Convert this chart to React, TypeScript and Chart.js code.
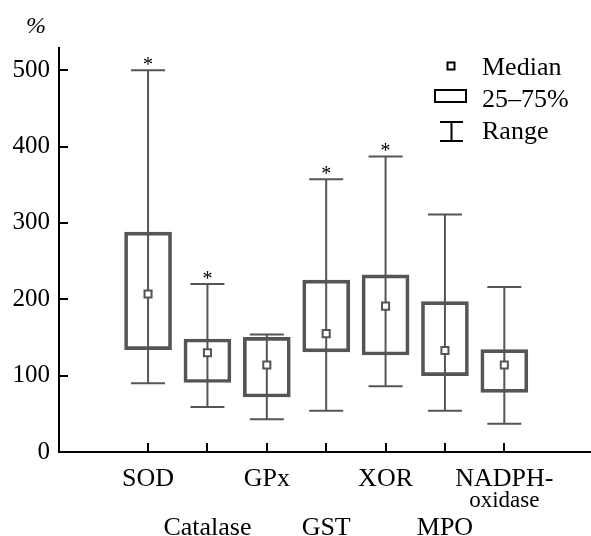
import { useEffect, useRef } from "react";
import { Chart, registerables } from "chart.js";

Chart.register(...registerables);

// ---- data ----
const categories = ["SOD", "Catalase", "GPx", "GST", "XOR", "MPO", "NADPH-"];
const categorySub = ["", "", "", "", "", "", "oxidase"];
const labelRow = [0, 1, 0, 1, 0, 1, 0];
const minValues = [90, 59, 43, 54, 86, 54, 37];
const q1Values = [134, 91, 72, 131, 127, 100, 78];
const medianValues = [207, 130, 114, 155, 191, 133, 114];
const q3Values = [288, 148, 150, 225, 232, 197, 134];
const maxValues = [500, 220, 154, 357, 387, 311, 216];
const significant = [true, true, false, true, true, false, false];
const yTicks = [0, 100, 200, 300, 400, 500];
const legendLabels = ["Median", "25\u201375%", "Range"];

const GRAY = "#555555";
const FONT = "'Liberation Serif', 'DejaVu Serif', serif";

const extrasPlugin = {
  id: "boxExtras",
  beforeDatasetsDraw(chart: any) {
    const { ctx, scales } = chart;
    const x = scales.x;
    const y = scales.y;
    ctx.save();
    ctx.strokeStyle = GRAY;
    ctx.lineWidth = 2;
    categories.forEach((_, i) => {
      const px = x.getPixelForValue(i);
      const top = y.getPixelForValue(maxValues[i]);
      const bot = y.getPixelForValue(minValues[i]);
      ctx.beginPath();
      ctx.moveTo(px, top);
      ctx.lineTo(px, bot);
      ctx.moveTo(px - 17, top);
      ctx.lineTo(px + 17, top);
      ctx.moveTo(px - 17, bot);
      ctx.lineTo(px + 17, bot);
      ctx.stroke();
    });
    ctx.restore();
  },
  afterDraw(chart: any) {
    const { ctx, scales, chartArea } = chart;
    const x = scales.x;
    const y = scales.y;
    ctx.save();
    // inside tick marks
    ctx.strokeStyle = "#000";
    ctx.lineWidth = 2;
    ctx.beginPath();
    yTicks.forEach((v) => {
      const py = Math.round(y.getPixelForValue(v));
      ctx.moveTo(chartArea.left, py);
      ctx.lineTo(chartArea.left + 9, py);
    });
    categories.forEach((_, i) => {
      const px = Math.round(x.getPixelForValue(i));
      ctx.moveTo(px, chartArea.bottom);
      ctx.lineTo(px, chartArea.bottom - 9);
    });
    ctx.stroke();

    // x labels (staggered)
    ctx.fillStyle = "#000";
    ctx.textAlign = "center";
    ctx.textBaseline = "alphabetic";
    categories.forEach((c, i) => {
      const px = x.getPixelForValue(i);
      const base = labelRow[i] === 0 ? 486 : 535;
      ctx.font = `26px ${FONT}`;
      ctx.fillText(c, px, base);
      if (categorySub[i]) {
        ctx.font = `23px ${FONT}`;
        ctx.fillText(categorySub[i], px, base + 21);
      }
    });

    // asterisks
    ctx.font = `20px ${FONT}`;
    categories.forEach((_, i) => {
      if (!significant[i]) return;
      const px = x.getPixelForValue(i);
      const top = y.getPixelForValue(maxValues[i]);
      ctx.fillText("*", px, top + 1);
    });

    // % unit
    ctx.textAlign = "left";
    ctx.font = `italic 24px ${FONT}`;
    ctx.fillText("%", 26, 33);

    // legend
    ctx.font = `26px ${FONT}`;
    ctx.fillStyle = "#000";
    ctx.fillText(legendLabels[0], 482, 75);
    ctx.fillText(legendLabels[1], 482, 107);
    ctx.fillText(legendLabels[2], 482, 139);
    ctx.strokeStyle = "#000";
    ctx.lineWidth = 2;
    ctx.strokeRect(447.5, 62.5, 7, 7);
    ctx.strokeRect(435, 90, 31, 12);
    ctx.beginPath();
    ctx.moveTo(440, 122);
    ctx.lineTo(463, 122);
    ctx.moveTo(451.5, 122);
    ctx.lineTo(451.5, 141);
    ctx.moveTo(440, 141);
    ctx.lineTo(463, 141);
    ctx.stroke();
    ctx.restore();
  },
};

export default function App() {
  const ref = useRef<HTMLCanvasElement>(null);
  useEffect(() => {
    if (!ref.current) return;
    const chart = new Chart(ref.current, {
      type: "bar",
      data: {
        datasets: [
          {
            type: "scatter",
            order: 0,
            data: medianValues.map((m, i) => ({ x: i, y: m })),
            pointStyle: "rect",
            radius: 5,
            borderWidth: 2,
            borderColor: GRAY,
            backgroundColor: "#ffffff",
          } as any,
          {
            type: "bar",
            order: 1,
            data: q1Values.map((q, i) => ({ x: i, y: [q, q3Values[i]] })),
            barThickness: 47,
            borderWidth: 3,
            borderColor: GRAY,
            backgroundColor: "rgba(0,0,0,0)",
            borderSkipped: false,
          } as any,
        ],
      },
      options: {
        animation: false,
        responsive: false,
        events: [],
        layout: { autoPadding: false, padding: { top: 48, left: 0, right: 0, bottom: 0 } },
        plugins: { legend: { display: false }, tooltip: { enabled: false } },
        scales: {
          x: {
            type: "linear",
            offset: false,
            min: -1.5,
            max: 7.46,
            grid: { display: false, offset: false },
            border: { display: true, color: "#000", width: 2 },
            ticks: { display: false },
            afterFit: (s: any) => {
              s.height = 84;
            },
          },
          y: {
            type: "linear",
            min: 0,
            max: 529,
            grid: { display: false, drawTicks: false },
            border: { display: true, color: "#000", width: 2 },
            ticks: {
              padding: 9,
              color: "#000",
              font: { family: FONT, size: 25 },
            },
            afterBuildTicks: (s: any) => {
              s.ticks = yTicks.map((v) => ({ value: v }));
            },
            afterFit: (s: any) => {
              s.width = 59;
            },
          },
        },
      } as any,
      plugins: [extrasPlugin],
    });
    return () => chart.destroy();
  }, []);
  return (
    <canvas
      ref={ref}
      width={591}
      height={536}
      style={{ position: "absolute", left: 0, top: 0, display: "block" }}
    />
  );
}
